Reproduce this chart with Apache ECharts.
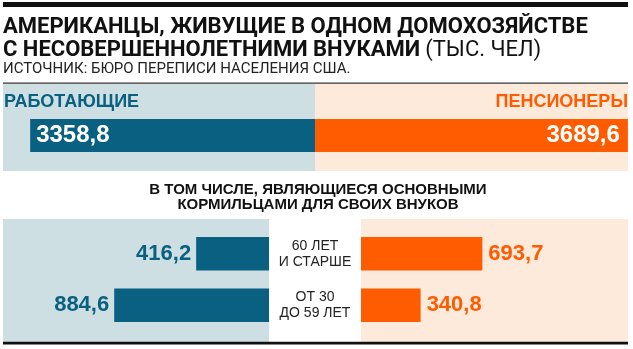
<!DOCTYPE html>
<html>
<head>
<meta charset="utf-8">
<script src="https://cdn.jsdelivr.net/npm/echarts@6/dist/echarts.min.js"></script>
<style>
  html, body { margin: 0; padding: 0; background: #ffffff; }
  #chart { width: 633px; height: 349px; }
</style>
</head>
<body>
<div id="chart"></div>
<script>
// Grandparents living with under-age grandchildren (thousands)
const groups = ['РАБОТАЮЩИЕ', 'ПЕНСИОНЕРЫ'];
const totals = [3358.8, 3689.6];
const ageGroups = ['60 ЛЕТ\nИ СТАРШЕ', 'ОТ 30\nДО 59 ЛЕТ'];
const breadwinnersWorking = [416.2, 884.6];
const breadwinnersRetired = [693.7, 340.8];

const BLUE = '#0a6080';
const ORANGE = '#ff5b00';
const BLUE_BG = '#cddfe3';
const ORANGE_BG = '#fdeadb';
const NUM_FONT = '"Liberation Sans", Arial, sans-serif';
const HEAD_FONT = 'Roboto, "Liberation Sans", sans-serif';

const fmt = v => v.toFixed(1).replace('.', ',');

const hiddenValueAxis = (gridIndex, max, inverse) => ({
  type: 'value', gridIndex, min: 0, max, inverse, show: false
});
const hiddenCatAxis = (gridIndex, data) => ({
  type: 'category', gridIndex, data, inverse: true, show: false
});

const chart = echarts.init(document.getElementById('chart'), null, { renderer: 'canvas' });

chart.setOption({
  animation: false,
  title: [
    {
      left: 3, top: 16, padding: 0,
      text: '{b|АМЕРИКАНЦЫ, ЖИВУЩИЕ В ОДНОМ ДОМОХОЗЯЙСТВЕ}\n{b|С НЕСОВЕРШЕННОЛЕТНИМИ ВНУКАМИ} {r|(ТЫС. ЧЕЛ)}',
      textStyle: {
        rich: {
          b: { fontFamily: HEAD_FONT, fontWeight: 'bold', fontSize: 22, lineHeight: 23, color: '#111111' },
          r: { fontFamily: HEAD_FONT, fontWeight: 'normal', fontSize: 22, lineHeight: 23, color: '#111111' }
        }
      }
    },
    {
      left: 3, top: 62, padding: 0,
      text: 'ИСТОЧНИК: БЮРО ПЕРЕПИСИ НАСЕЛЕНИЯ США.',
      textStyle: { fontFamily: HEAD_FONT, fontWeight: 'normal', fontSize: 15, color: '#222222' }
    },
    {
      left: 4, top: 93, padding: 0,
      text: groups[0],
      textStyle: { fontFamily: NUM_FONT, fontWeight: 'bold', fontSize: 18, color: BLUE }
    },
    {
      right: 5, top: 93, padding: 0,
      text: groups[1],
      textStyle: { fontFamily: NUM_FONT, fontWeight: 'bold', fontSize: 18, color: ORANGE }
    },
    {
      left: 318, top: 182, padding: 0, textAlign: 'center',
      text: 'В ТОМ ЧИСЛЕ, ЯВЛЯЮЩИЕСЯ ОСНОВНЫМИ\nКОРМИЛЬЦАМИ ДЛЯ СВОИХ ВНУКОВ',
      textStyle: { fontFamily: NUM_FONT, fontWeight: 'bold', fontSize: 15, lineHeight: 15, color: '#111111', align: 'center' }
    }
  ],
  graphic: [
    { type: 'rect', z: -10, shape: { x: 3, y: 2, width: 625, height: 5 }, style: { fill: '#111111' } },
    { type: 'rect', z: -10, shape: { x: 3, y: 84, width: 312, height: 87 }, style: { fill: BLUE_BG } },
    { type: 'rect', z: -10, shape: { x: 315, y: 84, width: 313, height: 87 }, style: { fill: ORANGE_BG } },
    { type: 'rect', z: -9, shape: { x: 3, y: 82.5, width: 625, height: 1.2 }, style: { fill: '#333333' } },
    { type: 'rect', z: -10, shape: { x: 3, y: 219, width: 266, height: 123 }, style: { fill: BLUE_BG } },
    { type: 'rect', z: -10, shape: { x: 361, y: 219, width: 267, height: 123 }, style: { fill: ORANGE_BG } },
    { type: 'rect', z: 10, shape: { x: 3, y: 341.8, width: 625, height: 2.6 }, style: { fill: '#111111' } }
  ],
  grid: [
    { left: 3, top: 119, width: 312, height: 33 },
    { left: 315, top: 119, width: 313, height: 33 },
    { left: 3, top: 228, width: 266, height: 103 },
    { left: 361, top: 228, width: 267, height: 103 }
  ],
  xAxis: [
    hiddenValueAxis(0, 3679, true),
    hiddenValueAxis(1, 3691, false),
    hiddenValueAxis(2, 1520, true),
    hiddenValueAxis(3, 1526, false)
  ],
  yAxis: [
    hiddenCatAxis(0, ['Всего']),
    hiddenCatAxis(1, ['Всего']),
    hiddenCatAxis(2, ageGroups),
    {
      type: 'category', gridIndex: 3, data: ageGroups, inverse: true,
      axisLine: { show: false }, axisTick: { show: false }, splitLine: { show: false },
      axisLabel: {
        show: true, align: 'center', margin: 46,
        fontFamily: NUM_FONT, fontSize: 14, lineHeight: 16, color: '#222222',
        padding: [3, 0, 0, 0]
      }
    }
  ],
  series: [
    {
      type: 'bar', name: groups[0], xAxisIndex: 0, yAxisIndex: 0,
      data: [totals[0]], barWidth: 33, itemStyle: { color: BLUE },
      label: {
        show: true, position: 'insideLeft', distance: 6, formatter: p => fmt(p.value),
        fontFamily: NUM_FONT, fontWeight: 'bold', fontSize: 24, color: '#ffffff'
      }
    },
    {
      type: 'bar', name: groups[1], xAxisIndex: 1, yAxisIndex: 1,
      data: [totals[1]], barWidth: 33, itemStyle: { color: ORANGE },
      label: {
        show: true, position: 'insideRight', distance: 8, formatter: p => fmt(p.value),
        fontFamily: NUM_FONT, fontWeight: 'bold', fontSize: 24, color: '#ffffff'
      }
    },
    {
      type: 'bar', name: groups[0], xAxisIndex: 2, yAxisIndex: 2,
      data: breadwinnersWorking, barWidth: 33.5, itemStyle: { color: BLUE },
      label: {
        show: true, position: 'left', distance: 5, formatter: p => fmt(p.value),
        fontFamily: NUM_FONT, fontWeight: 'bold', fontSize: 22, color: BLUE
      }
    },
    {
      type: 'bar', name: groups[1], xAxisIndex: 3, yAxisIndex: 3,
      data: breadwinnersRetired, barWidth: 33.5, itemStyle: { color: ORANGE },
      label: {
        show: true, position: 'right', distance: 6, formatter: p => fmt(p.value),
        fontFamily: NUM_FONT, fontWeight: 'bold', fontSize: 22, color: ORANGE
      }
    }
  ]
});
</script>
</body>
</html>
